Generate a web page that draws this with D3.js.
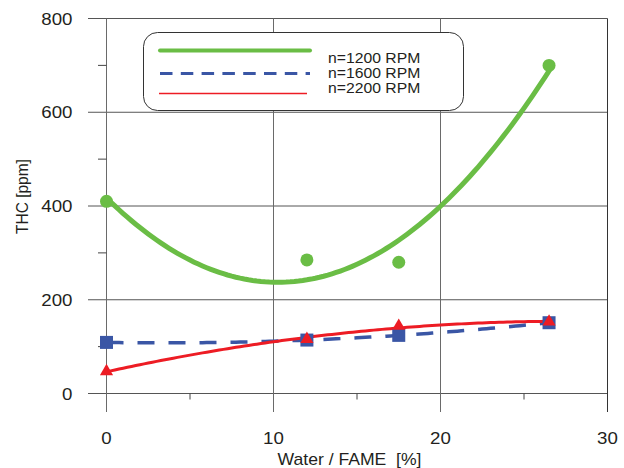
<!DOCTYPE html>
<html><head><meta charset="utf-8">
<script src="https://cdn.jsdelivr.net/npm/d3@7"></script>
<style>html,body{margin:0;padding:0;background:#fff}svg{display:block}text{white-space:pre}</style>
</head><body>
<svg id="chart" width="624" height="468"></svg>
<script>
// ---- data ----
const waterFame = [0, 12, 17.5, 26.5];
const thc1200 = [410, 285, 280, 700];
const thc1600 = [109, 114, 124, 151];
const thc2200 = [47, 116, 144, 153];
const seriesNames = ["n=1200 RPM", "n=1600 RPM", "n=2200 RPM"];
const xTicks = [0, 10, 20, 30];
const yTicks = [0, 200, 400, 600, 800];
const yMinorTicks = [100, 300, 500, 700];
const xMinorTicks = [5, 15, 25];
const xTitle = "Water / FAME  [%]";
const yTitle = "THC [ppm]";

const colors = {g: "#6abd45", b: "#3a56a5", r: "#ed1c24"};
const svg = d3.select("#chart");
const x = d3.scaleLinear().domain([0, 30]).range([106.5, 607.5]);
const y = d3.scaleLinear().domain([0, 800]).range([393.5, 18.5]);
const font = "'Liberation Sans', Arial, Helvetica, sans-serif";

function txt(g, s, px, py, size, anchor, sx, rot) {
  const t = g.append("text").text(s)
    .attr("font-family", font).attr("font-size", size + "px").attr("fill", "#231f20")
    .attr("text-anchor", anchor).attr("xml:space", "preserve");
  if (rot) t.attr("transform", `translate(${px},${py}) rotate(-90) scale(1,${sx})`);
  else t.attr("transform", `translate(${px},${py}) scale(${sx},1)`);
  return t;
}

// quadratic least-squares fit (trendline)
function quadFit(xs, ys) {
  const S = k => d3.sum(xs, v => Math.pow(v, k));
  const T = k => d3.sum(xs, (v, i) => Math.pow(v, k) * ys[i]);
  const A = [[S(0), S(1), S(2), T(0)], [S(1), S(2), S(3), T(1)], [S(2), S(3), S(4), T(2)]];
  for (let i = 0; i < 3; i++) {
    for (let j = i + 1; j < 3; j++) {
      const f = A[j][i] / A[i][i];
      for (let k = i; k < 4; k++) A[j][k] -= f * A[i][k];
    }
  }
  const c = [0, 0, 0];
  for (let i = 2; i >= 0; i--) {
    let s = A[i][3];
    for (let k = i + 1; k < 3; k++) s -= A[i][k] * c[k];
    c[i] = s / A[i][i];
  }
  return v => c[0] + c[1] * v + c[2] * v * v;
}

// ---- grid ----
const grid = svg.append("g");
grid.selectAll(".hg").data(yTicks).join("line")
  .attr("x1", 88).attr("x2", x(30)).attr("y1", d => y(d)).attr("y2", d => y(d))
  .attr("stroke", "#555").attr("stroke-width", 1);
grid.selectAll(".vg").data(xTicks).join("line")
  .attr("x1", d => x(d)).attr("x2", d => x(d)).attr("y1", y(800)).attr("y2", 412)
  .attr("stroke", d => d === 30 ? "#333" : "#6a6a6a").attr("stroke-width", 1);
grid.selectAll(".ym").data(yMinorTicks).join("line")
  .attr("x1", 98).attr("x2", x(0)).attr("y1", d => y(d)).attr("y2", d => y(d))
  .attr("stroke", "#444").attr("stroke-width", 1);
grid.selectAll(".xm").data(xMinorTicks).join("line")
  .attr("x1", d => x(d)).attr("x2", d => x(d)).attr("y1", y(0)).attr("y2", y(0) + 6)
  .attr("stroke", "#444").attr("stroke-width", 1);

// ---- tick labels ----
const lab = svg.append("g");
yTicks.forEach(v => txt(lab, String(v), 72.5, y(v) + 6.2, 17, "end", 1.1));
xTicks.forEach(v => txt(lab, String(v), x(v), 444, 17, "middle", 1.1));
txt(lab, xTitle, 349.5, 465, 16, "middle", 1.1);
txt(lab, yTitle, 28, 196.5, 15.5, "middle", 1.05, true);

// ---- trendlines ----
const xs = d3.range(0, 26.5001, 0.25);
const line = f => d3.line().x(v => x(v)).y(v => y(f(v)))(xs);
const fG = quadFit(waterFame, thc1200);
const fB = quadFit(waterFame, thc1600);
const fR = quadFit(waterFame, thc2200);
const curves = svg.append("g").attr("fill", "none");
curves.append("path").attr("d", line(fG)).attr("stroke", colors.g).attr("stroke-width", 5).attr("stroke-linecap", "round");
curves.append("path").attr("d", line(fB)).attr("stroke", colors.b).attr("stroke-width", 3.5)
  .attr("stroke-dasharray", "17,14");
curves.append("path").attr("d", line(fR)).attr("stroke", colors.r).attr("stroke-width", 3);

// ---- markers ----
const mk = svg.append("g");
mk.selectAll("circle").data(waterFame).join("circle")
  .attr("cx", d => x(d)).attr("cy", (d, i) => y(thc1200[i])).attr("r", 6.5).attr("fill", colors.g);
mk.selectAll("rect").data(waterFame).join("rect")
  .attr("x", d => x(d) - 6.5).attr("y", (d, i) => y(thc1600[i]) - 6.5)
  .attr("width", 13).attr("height", 13).attr("fill", colors.b);
const tri = d3.symbol().type(d3.symbolTriangle).size(75);
mk.selectAll("path").data(waterFame).join("path")
  .attr("d", tri).attr("transform", (d, i) => `translate(${x(d)},${y(thc2200[i])})`)
  .attr("fill", colors.r);

// ---- legend ----
const lg = svg.append("g");
lg.append("rect").attr("x", 143.5).attr("y", 32.5).attr("width", 320).attr("height", 78)
  .attr("rx", 14).attr("ry", 14).attr("fill", "#fff").attr("stroke", "#333").attr("stroke-width", 1);
lg.append("line").attr("x1", 160).attr("x2", 310).attr("y1", 50.5).attr("y2", 50.5)
  .attr("stroke", colors.g).attr("stroke-width", 4).attr("stroke-linecap", "round");
lg.append("line").attr("x1", 160).attr("x2", 310).attr("y1", 73.5).attr("y2", 73.5)
  .attr("stroke", colors.b).attr("stroke-width", 3).attr("stroke-dasharray", "12.5,8.3");
lg.append("line").attr("x1", 159).attr("x2", 307).attr("y1", 93.5).attr("y2", 93.5)
  .attr("stroke", colors.r).attr("stroke-width", 1.5);
seriesNames.forEach((s, i) => txt(lg, s, 328, 62.5 + i * 15, 15, "start", 1.05));
</script>
</body></html>
